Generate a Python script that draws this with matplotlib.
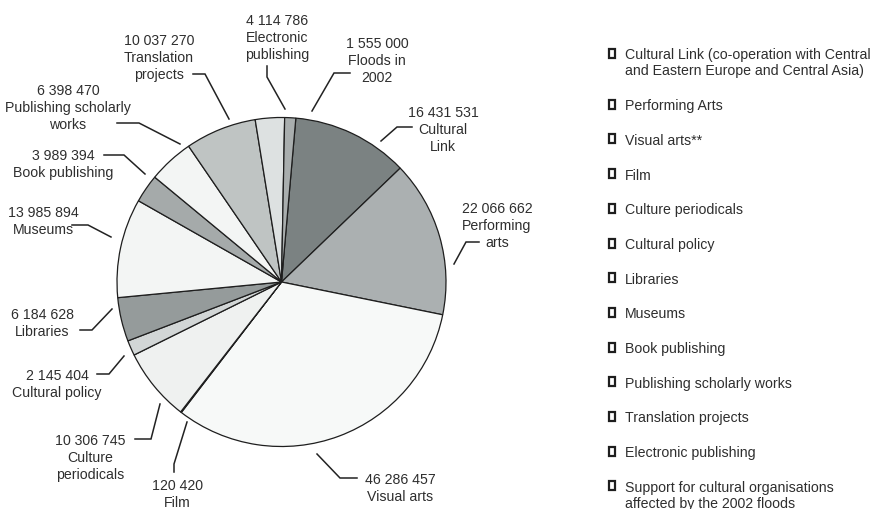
import matplotlib
matplotlib.use("Agg")
import matplotlib.pyplot as plt
from matplotlib.patches import Rectangle

plt.rcParams['font.family'] = ['Liberation Sans', 'DejaVu Sans']

# data: budget by programme (CZK), clockwise from the top
values = [16431531, 22066662, 46286457, 120420, 10306745, 2145404,
          6184628, 13985894, 3989394, 6398470, 10037270, 4114786, 1555000]
pie_names = [["Cultural", "Link"], ["Performing", "arts"], ["Visual arts"], ["Film"],
             ["Culture", "periodicals"], ["Cultural policy"], ["Libraries"], ["Museums"],
             ["Book publishing"], ["Publishing scholarly", "works"], ["Translation", "projects"],
             ["Electronic", "publishing"], ["Floods in", "2002"]]
legend_names = [["Cultural Link (co-operation with Central", "and Eastern Europe and Central Asia)"],
                ["Performing Arts"], ["Visual arts**"], ["Film"], ["Culture periodicals"],
                ["Cultural policy"], ["Libraries"], ["Museums"], ["Book publishing"],
                ["Publishing scholarly works"], ["Translation projects"], ["Electronic publishing"],
                ["Support for cultural organisations", "affected by the 2002 floods"]]

colors = ['#7b8282', '#abb0b1', '#f7f9f8', '#6b7070', '#eff1f0', '#d2d6d6', '#959b9b',
          '#f3f5f4', '#a5aaaa', '#f3f5f4', '#bfc4c3', '#dde1e1', '#a9aeae']

# layout in pixels (origin top-left): label first-line centre and leader line points
label_pos = [(443, 112), (497, 208), (400, 479), (177, 485), (90, 440), (57, 375), (42, 314),
             (43, 212), (63, 155), (68, 90), (159, 40), (277, 20), (377, 43)]
leaders = [[(412, 128), (397, 128), (381, 142)],
           [(479, 243), (466, 243), (454, 265)],
           [(357, 479), (340, 479), (317, 455)],
           [(174, 473), (174, 465), (187, 423)],
           [(135, 440), (151, 440), (160, 405)],
           [(97, 375), (109, 375), (124, 357)],
           [(80, 331), (92, 331), (112, 310)],
           [(72, 226), (88, 226), (111, 238)],
           [(104, 156), (124, 156), (145, 175)],
           [(117, 124), (139, 124), (180, 145)],
           [(193, 75), (205, 75), (229, 120)],
           [(267, 67), (267, 78), (285, 110)],
           [(350, 74), (334, 74), (312, 112)]]

W, H = 874, 510
fig = plt.figure(figsize=(W / 100, H / 100), dpi=100)
ax = fig.add_axes([0, 0, 1, 1])


def Y(y):
    return H - y


txt_color = '#2e2e2e'
fs = 10.2
line_h = 17

ax.pie(values, colors=colors, startangle=85, counterclock=False,
       center=(281.5, Y(283)), radius=164.5,
       wedgeprops=dict(edgecolor='#1e1e1e', linewidth=0.9))

for val, name, (lx, ly), pts in zip(values, pie_names, label_pos, leaders):
    lines = ['{:,}'.format(val).replace(',', ' ')] + name
    for k, s in enumerate(lines):
        ax.text(lx, Y(ly + k * line_h) - 5, s, ha='center', va='baseline',
                fontsize=fs, color=txt_color)
    ax.plot([p[0] for p in pts], [Y(p[1]) for p in pts], color='#222222', lw=1.1,
            solid_joinstyle='miter')

# legend
ly = 54
for name in legend_names:
    ax.add_patch(Rectangle((609, Y(ly) - 4.5), 5.5, 9, facecolor='white',
                           edgecolor='#1e1e1e', linewidth=1.6))
    for k, s in enumerate(name):
        ax.text(625, Y(ly + k * 16.5) - 5, s, ha='left', va='baseline',
                fontsize=fs, color=txt_color)
    ly += 34.7 + 16.5 * (len(name) - 1)

ax.set_xlim(0, W)
ax.set_ylim(0, H)
ax.set_aspect('equal')
ax.axis('off')

fig.savefig('out.png', dpi=100)
